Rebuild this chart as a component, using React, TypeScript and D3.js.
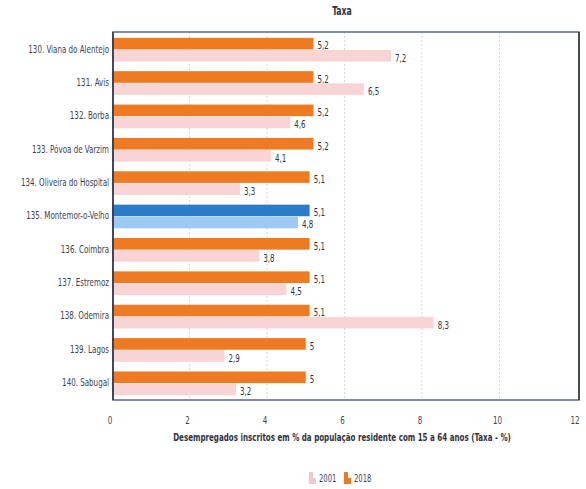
import React from "react";
import * as d3 from "d3";

const categories = [
  "130. Viana do Alentejo",
  "131. Avis",
  "132. Borba",
  "133. Póvoa de Varzim",
  "134. Oliveira do Hospital",
  "135. Montemor-o-Velho",
  "136. Coimbra",
  "137. Estremoz",
  "138. Odemira",
  "139. Lagos",
  "140. Sabugal",
];
const values2018 = [5.2, 5.2, 5.2, 5.2, 5.1, 5.1, 5.1, 5.1, 5.1, 5, 5];
const values2001 = [7.2, 6.5, 4.6, 4.1, 3.3, 4.8, 3.8, 4.5, 8.3, 2.9, 3.2];
const highlighted = "135. Montemor-o-Velho";
const xTicks = [0, 2, 4, 6, 8, 10, 12];
const seriesNames = ["2018", "2001"];
const title = "Taxa";
const xTitle = "Desempregados inscritos em % da população residente com 15 a 64 anos (Taxa - %)";

const W = 586;
const H = 489;
const left = 113;
const right = 579;
const top = 32;
const bottom = 400;

const FONT = "'DejaVu Sans Condensed', 'DejaVu Sans', sans-serif";
const SX = 0.72;

function SText(props: {
  x: number;
  y: number;
  anchor?: string;
  size?: number;
  weight?: string | number;
  fill?: string;
  children: React.ReactNode;
}) {
  const { x, y, anchor = "start", size = 11, weight = "normal", fill = "#333", children } = props;
  return (
    <text
      transform={`translate(${x},${y}) scale(${SX},1)`}
      textAnchor={anchor as any}
      dominantBaseline="middle"
      fontFamily={FONT}
      fontSize={size}
      fontWeight={weight}
      fill={fill}
    >
      {children}
    </text>
  );
}

export default function App() {
  const x = d3.scaleLinear().domain([0, 12]).range([left - 1, right - 2]);
  const y0 = d3
    .scaleBand<string>()
    .domain(categories)
    .range([top + 1, bottom])
    .paddingInner(0.26)
    .paddingOuter(0.13);
  const y1 = d3.scaleBand<string>().domain(seriesNames).range([0, y0.bandwidth()]).padding(0.04);

  const fmt = (v: number) => String(v).replace(".", ",");

  const colors: Record<string, string> = { "2018": "#EE7B22", "2001": "#F8D4D4" };
  const hiColors: Record<string, string> = { "2018": "#2B7CC6", "2001": "#9DCAF0" };

  return (
    <svg
      width={W}
      height={H}
      style={{ position: "absolute", left: 0, top: 0, background: "#fff" }}
    >
      <rect x={0} y={0} width={W} height={H} fill="#fff" />
      <SText x={342} y={12} anchor="middle" size={12} weight="bold" fill="#2f3342">
        {title}
      </SText>

      {/* gridlines */}
      {xTicks.slice(1, -1).map((t) => (
        <line
          key={t}
          x1={x(t)}
          x2={x(t)}
          y1={top}
          y2={bottom}
          stroke="#d6d6d6"
          strokeDasharray="2,2"
          strokeWidth={1}
        />
      ))}

      {/* bars */}
      {categories.map((c, i) => {
        const vals: Record<string, number> = { "2018": values2018[i], "2001": values2001[i] };
        const isHi = c === highlighted;
        return (
          <g key={c}>
            {seriesNames.map((s) => {
              const yy = (y0(c) ?? 0) + (y1(s) ?? 0);
              const h = y1.bandwidth();
              const v = vals[s];
              return (
                <g key={s}>
                  <rect
                    x={x(0)}
                    y={yy}
                    width={x(v) - x(0)}
                    height={h}
                    fill={isHi ? hiColors[s] : colors[s]}
                  />
                  <SText x={x(v) + 4} y={yy + h / 2 + 3} size={11} fill="#2f3342">
                    {fmt(v)}
                  </SText>
                </g>
              );
            })}
            <SText
              x={left - 4}
              y={(y0(c) ?? 0) + y0.bandwidth() / 2}
              anchor="end"
              size={11}
              fill="#3a3f58"
            >
              {c}
            </SText>
          </g>
        );
      })}

      {/* plot border */}
      <rect
        x={left}
        y={top}
        width={right - left}
        height={bottom - top}
        fill="none"
        stroke="#5a6690"
        strokeWidth={1.5}
      />
      <line x1={left} x2={left} y1={top} y2={bottom} stroke="#2d3348" strokeWidth={1.5} />
      <line x1={right} x2={right} y1={top} y2={bottom} stroke="#2d3348" strokeWidth={1.5} />

      {/* x ticks */}
      {xTicks.map((t) => (
        <SText key={t} x={x(t) - 2} y={421} anchor="middle" size={11} fill="#3a3f58">
          {String(t)}
        </SText>
      ))}
      <SText x={342} y={438} anchor="middle" size={11} weight="bold" fill="#2f3342">
        {xTitle}
      </SText>

      {/* legend */}
      <g>
        <rect x={309} y={472} width={4} height={12} fill="#F4C6CE" />
        <rect x={313} y={478} width={3} height={6} fill="#F4C6CE" />
        <SText x={319} y={479} size={10.5} fill="#3a3f58">
          2001
        </SText>
        <rect x={344} y={472} width={4} height={12} fill="#EE7B22" />
        <rect x={348} y={478} width={3} height={6} fill="#EE7B22" />
        <SText x={354} y={479} size={10.5} fill="#3a3f58">
          2018
        </SText>
      </g>
    </svg>
  );
}
